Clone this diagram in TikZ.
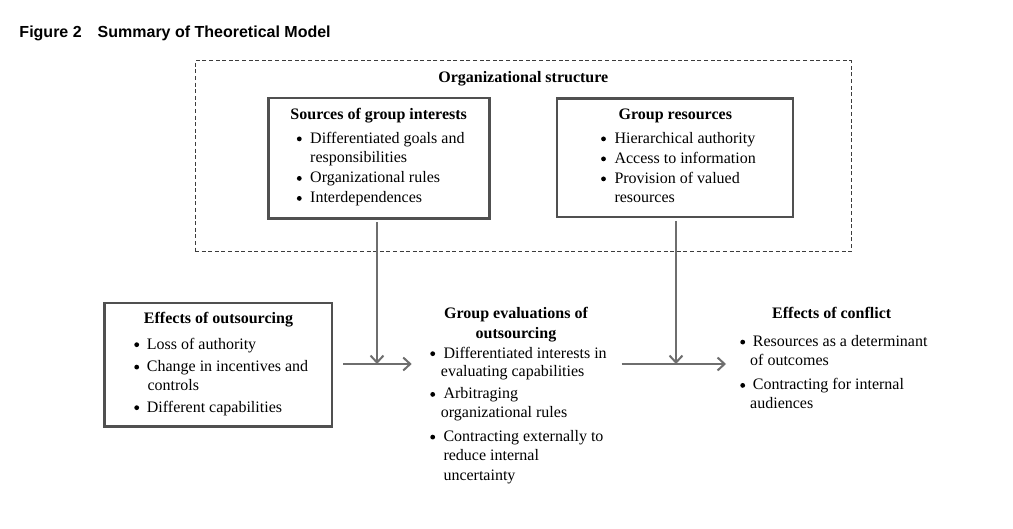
\documentclass[tikz,border=0pt]{standalone}
\usepackage{fontspec}
\setmainfont{Liberation Serif}
\setsansfont{Liberation Sans}
\usetikzlibrary{arrows.meta}
\definecolor{boxgray}{RGB}{80,80,80}
\definecolor{arrgray}{RGB}{110,110,110}
\definecolor{dashgray}{RGB}{60,60,60}
\tikzset{
  txt/.style={anchor=base west, inner sep=0pt, font=\fontsize{16}{19}\selectfont},
  hd/.style={anchor=base, inner sep=0pt, font=\fontsize{16}{19}\selectfont\bfseries},
  bul/.style={circle, fill=black, inner sep=0pt, minimum size=4.8pt, yshift=4.6pt},
  solidbox/.style={draw=boxgray, line width=2.5pt, inner sep=0pt},
  dashbox/.style={draw=dashgray, line width=1pt, dash pattern=on 4pt off 2.6pt, inner sep=0pt},
  arr/.style={draw=arrgray, line width=2pt, -{Straight Barb[length=7pt,width=13pt,line width=2pt]}},
}
\begin{document}
\begin{tikzpicture}[x=1pt,y=-1pt]
\useasboundingbox (0,0) rectangle (1013,529);

% figure caption
\node[anchor=base west, inner sep=0pt, font=\fontsize{16}{19}\selectfont\sffamily\bfseries] (fig) at (19.3,38)
  {Figure 2\hspace{1em}Summary of Theoretical Model};

% organizational structure (dashed)
\node[dashbox, minimum width=656, minimum height=191] (org) at (523,156.5) {};
\node[hd] (orgt) at (523.3,83) {Organizational structure};

% sources of group interests
\node[solidbox, minimum width=221, minimum height=120.5] (src) at (378.75,158.5) {};
\node[hd] (srct) at (378.7,120) {Sources of group interests};
\node[bul] (srcb1) at (299.3,143.5) {};
\node[txt] (srcl1) at (310,143.5) {Differentiated goals and};
\node[txt] (srcl2) at (310,163) {responsibilities};
\node[bul] (srcb2) at (299.3,183) {};
\node[txt] (srcl3) at (310,183) {Organizational rules};
\node[bul] (srcb3) at (299.3,203) {};
\node[txt] (srcl4) at (310,203) {Interdependences};

% group resources
\node[solidbox, minimum width=236, minimum height=118.5] (res) at (675,157.8) {};
\node[hd] (rest) at (675.3,120) {Group resources};
\node[bul] (resb1) at (603.5,143.5) {};
\node[txt] (resl1) at (614.3,143.5) {Hierarchical authority};
\node[bul] (resb2) at (603.5,163.5) {};
\node[txt] (resl2) at (614.3,163.5) {Access to information};
\node[bul] (resb3) at (603.5,183.5) {};
\node[txt] (resl3) at (614.3,183.5) {Provision of valued};
\node[txt] (resl4) at (614.3,203) {resources};

% effects of outsourcing
\node[solidbox, minimum width=227.5, minimum height=123.5] (out) at (218.3,364.7) {};
\node[hd] (outt) at (218.5,323.3) {Effects of outsourcing};
\node[bul] (outb1) at (136.7,349.3) {};
\node[txt] (outl1) at (146.7,349.3) {Loss of authority};
\node[bul] (outb2) at (136.7,371.7) {};
\node[txt] (outl2) at (146.7,371.7) {Change in incentives and};
\node[txt] (outl3) at (147.3,390.7) {controls};
\node[bul] (outb3) at (136.7,412.3) {};
\node[txt] (outl4) at (146.7,412.3) {Different capabilities};

% group evaluations of outsourcing
\node[hd] (evt1) at (516,318.3) {Group evaluations of};
\node[hd] (evt2) at (516,338.3) {outsourcing};
\node[bul] (evb1) at (432.7,358.3) {};
\node[txt] (evl1) at (443.3,358.3) {Differentiated interests in};
\node[txt] (evl2) at (440.7,376.7) {evaluating capabilities};
\node[bul] (evb2) at (432.7,399) {};
\node[txt] (evl3) at (443.3,399) {Arbitraging};
\node[txt] (evl4) at (440.7,417.7) {organizational rules};
\node[bul] (evb3) at (432.7,441.7) {};
\node[txt] (evl5) at (443.3,441.7) {Contracting externally to};
\node[txt] (evl6) at (443.3,460.7) {reduce internal};
\node[txt] (evl7) at (443.3,480) {uncertainty};

% effects of conflict
\node[hd] (cft) at (831.7,318.3) {Effects of conflict};
\node[bul] (cfb1) at (742.7,346.7) {};
\node[txt] (cfl1) at (752.7,346.7) {Resources as a determinant};
\node[txt] (cfl2) at (750,366) {of outcomes};
\node[bul] (cfb2) at (742.7,390) {};
\node[txt] (cfl3) at (752.7,390) {Contracting for internal};
\node[txt] (cfl4) at (750,408.3) {audiences};

% connectors
\coordinate (j1) at (377,364);
\coordinate (j2) at (676,364);
\coordinate (h1s) at (343.3,364);
\coordinate (h1e) at (411.7,364);
\coordinate (h2s) at (621.7,364);
\coordinate (h2e) at (726,364);

\draw[arr, shorten <=2.5pt] (src.south -| j1) -- (j1);
\draw[arr, shorten <=2.5pt] (res.south -| j2) -- (j2);
\draw[arr] (h1s) -- (h1e);
\draw[arr] (h2s) -- (h2e);
\end{tikzpicture}
\end{document}
